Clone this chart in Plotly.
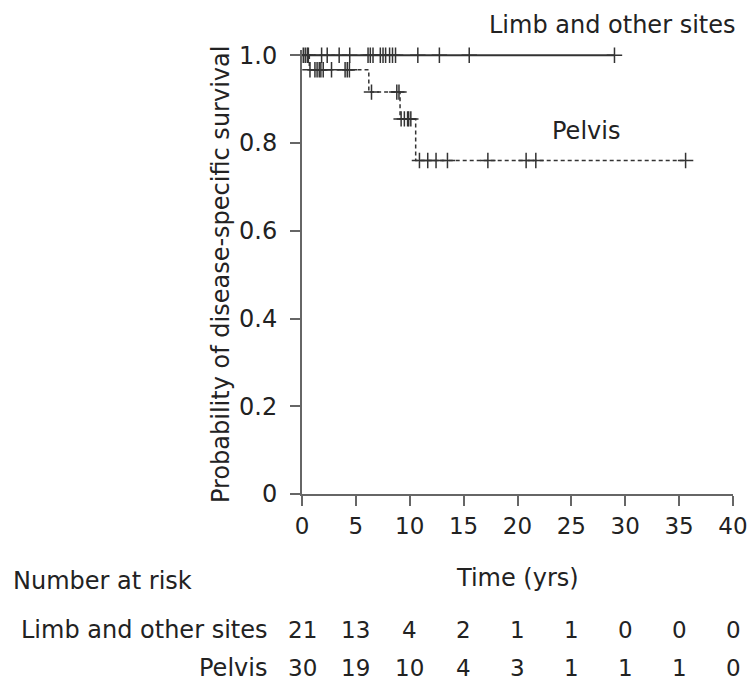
import plotly.graph_objects as go
import numpy as np

# ---- data ----
limb_event_times = [0.0, 29.0]
limb_surv = [1.0, 1.0]
limb_censor_times = [0.12, 0.3, 0.49, 0.59, 1.82, 2.34, 3.45, 4.43,
                     6.13, 6.34, 6.59, 7.27, 7.52, 7.76, 8.13, 8.4, 8.68,
                     10.75, 12.75, 15.52, 29.0]

pelvis_event_times = [0.0, 0.68, 6.2, 9.1, 10.55, 35.6]
pelvis_surv = [1.0, 0.967, 0.916, 0.855, 0.760, 0.760]
pelvis_censor_times = [0.74, 1.2, 1.4, 1.6, 1.75, 1.97, 2.74, 4.0, 4.2, 4.4,
                       6.45, 8.8, 9.0, 9.2, 9.5, 9.8, 9.9,
                       10.1, 10.9, 11.67, 12.44, 13.5,
                       17.25, 20.8, 21.7, 35.6]

risk_times = [0, 5, 10, 15, 20, 25, 30, 35, 40]
risk_limb = [21, 13, 4, 2, 1, 1, 0, 0, 0]
risk_pelvis = [30, 19, 10, 4, 3, 1, 1, 1, 0]

x_ticks = [0, 5, 10, 15, 20, 25, 30, 35, 40]
y_ticks = [0, 0.2, 0.4, 0.6, 0.8, 1.0]
y_tick_text = ["0", "0.2", "0.4", "0.6", "0.8", "1.0"]


def step_value(times, surv, t):
    idx = np.searchsorted(np.array(times), t, side="right") - 1
    return surv[max(idx, 0)]


limb_censor_y = [step_value(limb_event_times, limb_surv, t) for t in limb_censor_times]
pelvis_censor_y = [step_value(pelvis_event_times, pelvis_surv, t) for t in pelvis_censor_times]

FONT = "DejaVu Sans"
FS = 24
TXT = "#222222"
LINE = "#333333"
AX = "#666666"

# plot area in pixels
W, H = 748, 686
L, R, T, B = 302, 15, 50, 192
pw = W - L - R
ph = H - T - B


def px_to_paper_y(py):
    return (H - B - py) / ph


def px_to_paper_x(px):
    return (px - L) / pw


fig = go.Figure()

fig.add_trace(go.Scatter(x=limb_event_times, y=limb_surv, mode="lines",
                         line=dict(color=LINE, width=2, shape="hv"),
                         hoverinfo="skip", showlegend=False, cliponaxis=False))
fig.add_trace(go.Scatter(x=limb_censor_times, y=limb_censor_y, mode="markers",
                         marker=dict(symbol="cross-thin", size=11,
                                     line=dict(color=LINE, width=1.5)),
                         showlegend=False, cliponaxis=False))

fig.add_trace(go.Scatter(x=pelvis_event_times, y=pelvis_surv, mode="lines",
                         line=dict(color=LINE, width=1.5, shape="hv", dash="4px,3px"),
                         hoverinfo="skip", showlegend=False, cliponaxis=False))
fig.add_trace(go.Scatter(x=pelvis_censor_times, y=pelvis_censor_y, mode="markers",
                         marker=dict(symbol="cross-thin", size=11,
                                     line=dict(color=LINE, width=1.5)),
                         showlegend=False, cliponaxis=False))

annotations = []
# curve labels
annotations.append(dict(text="Limb and other sites", x=px_to_paper_x(737), y=px_to_paper_y(25),
                        xref="paper", yref="paper", showarrow=False,
                        xanchor="right", yanchor="middle",
                        font=dict(family=FONT, size=FS, color=TXT)))
annotations.append(dict(text="Pelvis", x=px_to_paper_x(586), y=px_to_paper_y(131),
                        xref="paper", yref="paper", showarrow=False,
                        xanchor="center", yanchor="middle",
                        font=dict(family=FONT, size=FS, color=TXT)))
# axis titles
annotations.append(dict(text="Time (yrs)", x=20, y=px_to_paper_y(578),
                        xref="x", yref="paper", showarrow=False,
                        xanchor="center", yanchor="middle",
                        font=dict(family=FONT, size=FS, color=TXT)))
annotations.append(dict(text="Probability of disease-specific survival",
                        x=px_to_paper_x(221), y=px_to_paper_y(275),
                        xref="paper", yref="paper", showarrow=False, textangle=-90,
                        xanchor="center", yanchor="middle",
                        font=dict(family=FONT, size=FS, color=TXT)))
# number at risk table
annotations.append(dict(text="Number at risk", x=px_to_paper_x(11), y=px_to_paper_y(581),
                        xref="paper", yref="paper", showarrow=False,
                        xanchor="left", yanchor="middle",
                        font=dict(family=FONT, size=FS, color=TXT)))
for label, counts, py in [("Limb and other sites", risk_limb, 630),
                          ("Pelvis", risk_pelvis, 668)]:
    annotations.append(dict(text=label, x=px_to_paper_x(269), y=px_to_paper_y(py),
                            xref="paper", yref="paper", showarrow=False,
                            xanchor="right", yanchor="middle",
                            font=dict(family=FONT, size=FS, color=TXT)))
    for t, c in zip(risk_times, counts):
        annotations.append(dict(text=str(c), x=t, y=px_to_paper_y(py),
                                xref="x", yref="paper", showarrow=False,
                                xanchor="center", yanchor="middle",
                                font=dict(family=FONT, size=FS - 1, color=TXT)))

fig.update_layout(
    width=W, height=H,
    margin=dict(l=L, r=R, t=T, b=B, pad=0, autoexpand=False),
    paper_bgcolor="white", plot_bgcolor="white",
    annotations=annotations,
    xaxis=dict(range=[0, 40], tickvals=x_ticks, ticks="outside", ticklen=10,
               tickwidth=2, tickcolor=AX, showline=True, linecolor=AX, linewidth=2,
               showgrid=False, zeroline=False, ticklabeloverflow="allow",
               automargin=False,
               tickfont=dict(family=FONT, size=FS - 1, color=TXT)),
    yaxis=dict(range=[0, 1.012], tickvals=y_ticks, ticktext=y_tick_text,
               ticks="outside", ticklen=10, tickwidth=2, tickcolor=AX,
               showline=True, linecolor=AX, linewidth=2, automargin=False,
               showgrid=False, zeroline=False, ticklabelstandoff=8,
               tickfont=dict(family=FONT, size=FS, color=TXT)),
)

fig.write_html("out.html", config={"displayModeBar": False},
               post_script="document.body.style.margin='0';document.body.style.overflow='hidden';")
